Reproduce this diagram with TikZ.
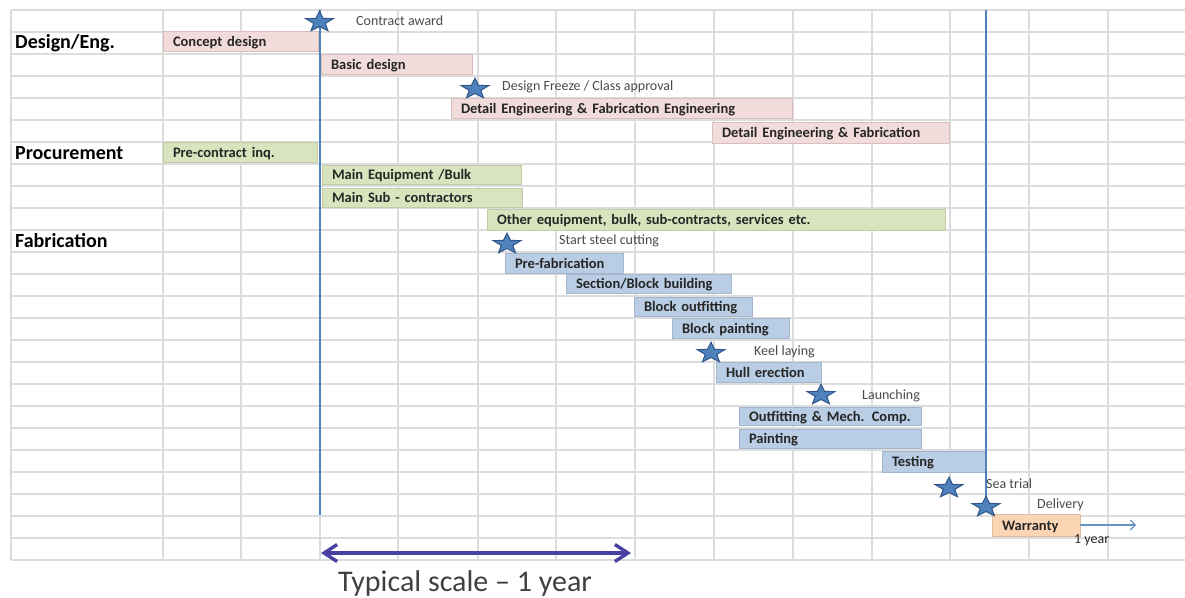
\documentclass[tikz,border=0pt]{standalone}
\usepackage{fontspec}
\setmainfont{Carlito}
\usetikzlibrary{shapes.geometric,arrows.meta}
\definecolor{gridc}{HTML}{DCDCDC}
\definecolor{pinkf}{HTML}{F2DCDB}
\definecolor{pinkd}{HTML}{D8BFBE}
\definecolor{greenf}{HTML}{D7E4BD}
\definecolor{greend}{HTML}{BFCCA6}
\definecolor{bluef}{HTML}{B9CDE5}
\definecolor{blued}{HTML}{A3B6CE}
\definecolor{orf}{HTML}{FCD5B5}
\definecolor{ord}{HTML}{E2BC9E}
\definecolor{starf}{HTML}{4F81BD}
\definecolor{stard}{HTML}{30568A}
\definecolor{vlinec}{HTML}{4F81BD}
\definecolor{purp}{HTML}{4841A3}
\definecolor{txtg}{HTML}{4A4A4A}
\definecolor{bartxt}{HTML}{262626}
\tikzset{
  gridline/.style={draw=gridc, line width=1.4pt},
  gbar/.style={rectangle, line width=0.8pt, inner xsep=10pt, inner ysep=0pt, align=left,
    text height=12pt, text depth=2pt,
    font=\bfseries\fontsize{14.5}{16}\selectfont, text=bartxt},
  pinkbar/.style={gbar, fill=pinkf, draw=pinkd},
  greenbar/.style={gbar, fill=greenf, draw=greend},
  bluebar/.style={gbar, fill=bluef, draw=blued},
  orbar/.style={gbar, fill=orf, draw=ord},
  heading/.style={anchor=west, inner sep=0pt, font=\bfseries\fontsize{20}{22}\selectfont, text=black},
  mlabel/.style={anchor=west, inner sep=0pt, font=\fontsize{14}{16}\selectfont, text=txtg},
  mstarshape/.style={star, star points=5, star point ratio=2.4, minimum size=29pt, inner sep=0pt,
    fill=starf, draw=stard, line width=1pt},
  vline/.style={draw=vlinec, line width=2.4pt},
  scalearrow/.style={draw=purp, line width=3.4pt, {Straight Barb[length=13pt,width=17pt]}-{Straight Barb[length=13pt,width=17pt]}},
  warrow/.style={draw=vlinec!85!white, line width=1.1pt, -{Straight Barb[length=5pt,width=10pt]}}
}
\newcommand{\gbarnode}[7]{%
  \node[#6, minimum width={(#4-#2)*1pt}, minimum height={(#5-#3)*1pt}, text width={(#4-#2-20)*1pt}]
    (#1) at ({(#2+#4)/2},{(#3+#5)/2}) {#7};}
\newcommand{\mstarnode}[3]{%
  \begin{scope}[shift={(#2,#3+1)}, yscale=0.75]
    \node[mstarshape, transform shape] (#1) at (0,0) {};
  \end{scope}}
\begin{document}
\begin{tikzpicture}[x=1pt, y=-1pt]
\useasboundingbox (0,0) rectangle (1185,597);
% grid
\foreach \k in {0,...,25} {
  \draw[gridline] (11,{10+22*\k}) -- (1185,{10+22*\k});
}
\foreach \xx in {11,163,241,320,398,478,556,635,714,793,872,950,1029,1108} {
  \draw[gridline] (\xx,10) -- (\xx,560);
}
% headings
\node[heading] (hdes) at (15,43) {Design/Eng.};
\node[heading] (hpro) at (15,153) {Procurement};
\node[heading] (hfab) at (15,241) {Fabrication};
% bars
\gbarnode{b1}{163}{31}{318}{51}{pinkbar}{Concept design}
\gbarnode{b2}{321}{54}{472}{74}{pinkbar}{Basic design}
\gbarnode{b3}{451}{98}{792}{118}{pinkbar}{Detail Engineering \& Fabrication Engineering}
\gbarnode{b4}{712}{122}{949}{143}{pinkbar}{Detail Engineering \& Fabrication}
\gbarnode{b5}{163}{142}{317}{162}{greenbar}{Pre-contract inq.}
\gbarnode{b6}{322}{165}{521}{184}{greenbar}{Main Equipment /Bulk}
\gbarnode{b7}{322}{188}{522}{207}{greenbar}{Main Sub - contractors}
\gbarnode{b8}{487}{209}{945}{230}{greenbar}{Other equipment, bulk, sub-contracts, services etc.}
\gbarnode{b9}{505}{253}{623}{273}{bluebar}{Pre-fabrication}
\gbarnode{b10}{566}{274}{731}{293}{bluebar}{Section/Block building}
\gbarnode{b11}{634}{297}{752}{316}{bluebar}{Block outfitting}
\gbarnode{b12}{672}{318}{789}{338}{bluebar}{Block painting}
\gbarnode{b13}{716}{362}{821}{382}{bluebar}{Hull erection}
\gbarnode{b14}{739}{407}{921}{425}{bluebar}{Outfitting \& Mech. Comp.}
\gbarnode{b15}{739}{429}{921}{448}{bluebar}{Painting}
\gbarnode{b16}{882}{451}{985}{472}{bluebar}{Testing}
\gbarnode{b17}{992}{514}{1080}{536}{orbar}{Warranty}
% vertical milestone lines
\coordinate (l1top) at (320,10);
\coordinate (l1bot) at (320,515);
\coordinate (l2top) at (986,10);
\coordinate (l2bot) at (986,506);
\draw[vline] (l1top) -- (l1bot);
\draw[vline] (l2top) -- (l2bot);
% stars
\mstarnode{m1}{319.5}{21}
\mstarnode{m2}{475}{88}
\mstarnode{m3}{507}{243}
\mstarnode{m4}{711}{352}
\mstarnode{m5}{821}{394}
\mstarnode{m6}{949}{487}
\mstarnode{m7}{986}{506}
% milestone labels
\node[mlabel] (t1) at (356,21) {Contract award};
\node[mlabel] (t2) at (502,87) {Design Freeze / Class approval};
\node[mlabel] (t3) at (559,241) {Start steel cutting};
\node[mlabel] (t4) at (754,352) {Keel laying};
\node[mlabel] (t5) at (862,396) {Launching};
\node[mlabel] (t6) at (986,484) {Sea trial};
\node[mlabel] (t7) at (1037,505) {Delivery};
% warranty arrow
\coordinate (wend) at (1136,525);
\draw[warrow] (b17.east) -- (wend);
\node[mlabel, text=bartxt] (t8) at (1074,540) {1 year};
% typical scale
\coordinate (sa) at (321,553);
\coordinate (sb) at (631,553);
\draw[scalearrow] (sa) -- (sb);
\node[font=\fontsize{30}{32}\selectfont, text=black!75, inner sep=0pt] (scale) at (465,583) {Typical scale – 1 year};
\end{tikzpicture}
\end{document}
